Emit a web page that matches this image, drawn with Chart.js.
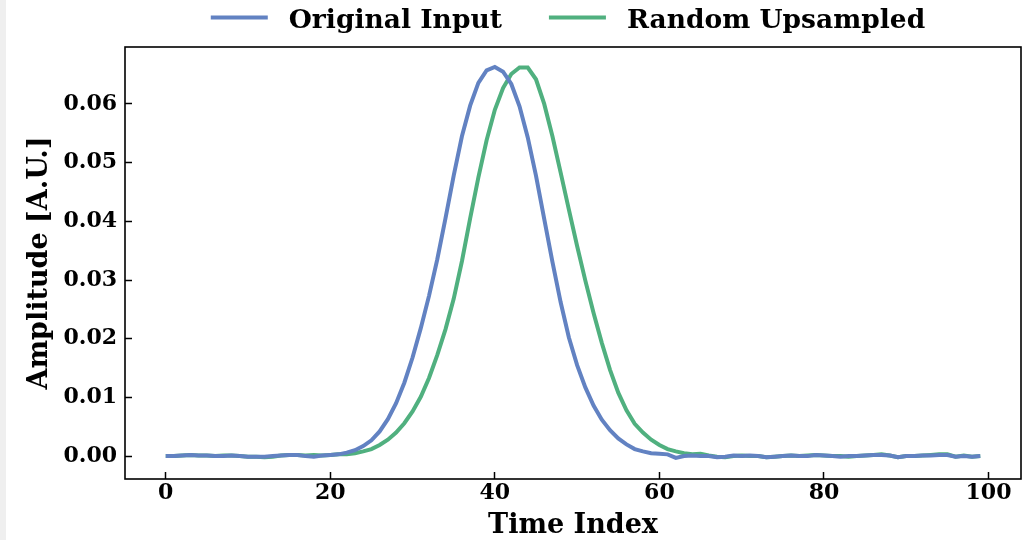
<!DOCTYPE html>
<html><head><meta charset="utf-8">
<script src="https://cdn.jsdelivr.net/npm/chart.js@4.4.1/dist/chart.umd.min.js"></script>
<style>
html,body{margin:0;padding:0;background:#fff;}
body{width:1036px;height:540px;overflow:hidden;position:relative;}
#strip{position:absolute;left:0;top:0;width:6px;height:540px;background:#efefef;}
#wrap{position:absolute;left:6px;top:0;width:1030px;height:540px;}
</style></head><body>
<div id="strip"></div>
<div id="wrap"><canvas id="c" width="1030" height="540"></canvas></div>
<script>
const timeIndex = Array.from({length: 100}, (_, i) => i);

const originalInput = [
  0.0000, 0.0000, 0.0001, 0.0002, 0.0001, 0.0001, 0.0000, 0.0000, 0.0001, 0.0000,
 -0.0001,-0.0001,-0.0001, 0.0000, 0.0001, 0.0002, 0.0002, 0.0000,-0.0001, 0.0001,
  0.0002, 0.0003, 0.0006, 0.0010, 0.0017, 0.0027, 0.0042, 0.0063, 0.0090, 0.0125,
  0.0168, 0.0218, 0.0273, 0.0335, 0.0405, 0.0478, 0.0545, 0.0597, 0.0636, 0.0657,
  0.0663, 0.0655, 0.0634, 0.0596, 0.0543, 0.0478, 0.0404, 0.0331, 0.0262, 0.0202,
  0.0155, 0.0117, 0.0086, 0.0062, 0.0044, 0.0030, 0.0020, 0.0012, 0.0008, 0.0005,
  0.0004, 0.0003,-0.0003, 0.0000, 0.0001, 0.0000, 0.0000,-0.0002,-0.0001, 0.0001,
  0.0000, 0.0001, 0.0000,-0.0002,-0.0001, 0.0000, 0.0001, 0.0000, 0.0000, 0.0002,
  0.0001, 0.0000,-0.0001, 0.0000, 0.0000, 0.0001, 0.0002, 0.0002, 0.0001,-0.0002,
  0.0000, 0.0000, 0.0001, 0.0001, 0.0002, 0.0002,-0.0001, 0.0000,-0.0001, 0.0000
];

const randomUpsampled = [
  0.0000, 0.0000, 0.0001, 0.0002, 0.0001, 0.0001, 0.0000, 0.0001, 0.0001, 0.0000,
 -0.0001,-0.0001,-0.0002,-0.0001, 0.0001, 0.0002, 0.0002, 0.0001, 0.0002, 0.0001,
  0.0002, 0.0003, 0.0003, 0.0005, 0.0008, 0.0012, 0.0019, 0.0028, 0.0040, 0.0056,
  0.0076, 0.0101, 0.0133, 0.0172, 0.0216, 0.0268, 0.0332, 0.0405, 0.0475, 0.0538,
  0.0590, 0.0627, 0.0651, 0.0662, 0.0662, 0.0642, 0.0600, 0.0545, 0.0483, 0.0420,
  0.0358, 0.0299, 0.0244, 0.0193, 0.0147, 0.0108, 0.0078, 0.0055, 0.0040, 0.0028,
  0.0019, 0.0012, 0.0008, 0.0005, 0.0003, 0.0004, 0.0001,-0.0001,-0.0002, 0.0000,
  0.0001, 0.0000, 0.0000,-0.0002,-0.0001, 0.0000, 0.0001, 0.0000, 0.0001, 0.0002,
  0.0001, 0.0000, 0.0000,-0.0001, 0.0000, 0.0001, 0.0002, 0.0003, 0.0001,-0.0002,
  0.0000, 0.0000, 0.0001, 0.0002, 0.0003, 0.0003,-0.0001, 0.0001,-0.0001, 0.0000
];

const xTicks = [0, 20, 40, 60, 80, 100];
const yTicks = [0.00, 0.01, 0.02, 0.03, 0.04, 0.05, 0.06];
const seriesLabels = ['Original Input', 'Random Upsampled'];
const seriesColors = ['#6282c2', '#50b07f'];

const FONT = "'DejaVu Serif', serif";

const framePlugin = {
  id: 'frame',
  afterDatasetsDraw(chart) {
    const {ctx, chartArea: a} = chart;
    ctx.save();
    ctx.strokeStyle = '#000';
    ctx.lineWidth = 1.6;
    ctx.strokeRect(a.left, a.top, a.right - a.left, a.bottom - a.top);
    ctx.restore();
  }
};

const legendPlugin = {
  id: 'mplLegend',
  afterDraw(chart) {
    const {ctx, chartArea: a} = chart;
    const lineLen = 57, gapText = 21, gapItem = 47;
    ctx.save();
    ctx.font = 'bold 26.5px ' + FONT;
    const items = chart.data.datasets.map(d => ({text: d.label, color: d.borderColor, w: ctx.measureText(d.label).width}));
    let total = 0;
    items.forEach((it, i) => { total += lineLen + gapText + it.w + (i ? gapItem : 0); });
    let x = (a.left + a.right) / 2 - total / 2 - 5;
    const yLine = 17.5, yText = 27.5;
    items.forEach((it, i) => {
      if (i) x += gapItem;
      ctx.strokeStyle = it.color;
      ctx.lineWidth = 4;
      ctx.beginPath();
      ctx.moveTo(x, yLine);
      ctx.lineTo(x + lineLen, yLine);
      ctx.stroke();
      x += lineLen + gapText;
      ctx.fillStyle = '#000';
      ctx.textBaseline = 'alphabetic';
      ctx.textAlign = 'left';
      ctx.fillText(it.text, x, yText);
      x += it.w;
    });
    ctx.restore();
  }
};

const ctx = document.getElementById('c').getContext('2d');
new Chart(ctx, {
  type: 'line',
  data: {
    datasets: [
      {
        label: seriesLabels[0],
        data: timeIndex.map((t, i) => ({x: t, y: originalInput[i]})),
        borderColor: seriesColors[0],
        borderWidth: 4,
        pointRadius: 0,
        tension: 0,
        fill: false
      },
      {
        label: seriesLabels[1],
        data: timeIndex.map((t, i) => ({x: t, y: randomUpsampled[i]})),
        borderColor: seriesColors[1],
        borderWidth: 4,
        pointRadius: 0,
        tension: 0,
        fill: false
      }
    ]
  },
  options: {
    responsive: false,
    animation: false,
    devicePixelRatio: 1,
    layout: {padding: {top: 47, right: 15, left: 0, bottom: 0}},
    plugins: {
      legend: {display: false},
      tooltip: {enabled: false}
    },
    scales: {
      x: {
        type: 'linear',
        min: -4.95,
        max: 103.95,
        afterBuildTicks: s => { s.ticks = xTicks.map(v => ({value: v})); },
        afterFit: s => { s.height = 61; },
        ticks: {
          font: {family: FONT, size: 22, weight: 'bold'},
          color: '#000',
          padding: 8,
          maxRotation: 0,
          callback: v => String(v)
        },
        grid: {drawOnChartArea: false, tickLength: -7, tickWidth: 1.5, tickColor: '#000'},
        border: {display: false},
        title: {
          display: true,
          text: 'Time Index',
          color: '#000',
          font: {family: FONT, size: 27, weight: 'bold'},
          padding: {top: 0, bottom: -2}
        }
      },
      y: {
        type: 'linear',
        min: -0.0039,
        max: 0.0697,
        afterBuildTicks: s => { s.ticks = yTicks.map(v => ({value: v})); },
        afterFit: s => { s.width = 119; },
        ticks: {
          font: {family: FONT, size: 22, weight: 'bold'},
          color: '#000',
          padding: 15,
          callback: v => Number(v).toFixed(2)
        },
        grid: {drawOnChartArea: false, tickLength: -7, tickWidth: 1.5, tickColor: '#000'},
        border: {display: false},
        title: {
          display: true,
          text: 'Amplitude [A.U.]',
          color: '#000',
          font: {family: FONT, size: 27, weight: 'bold'},
          padding: {top: 17.5, bottom: 0}
        }
      }
    }
  },
  plugins: [framePlugin, legendPlugin]
});
</script>
</body></html>
